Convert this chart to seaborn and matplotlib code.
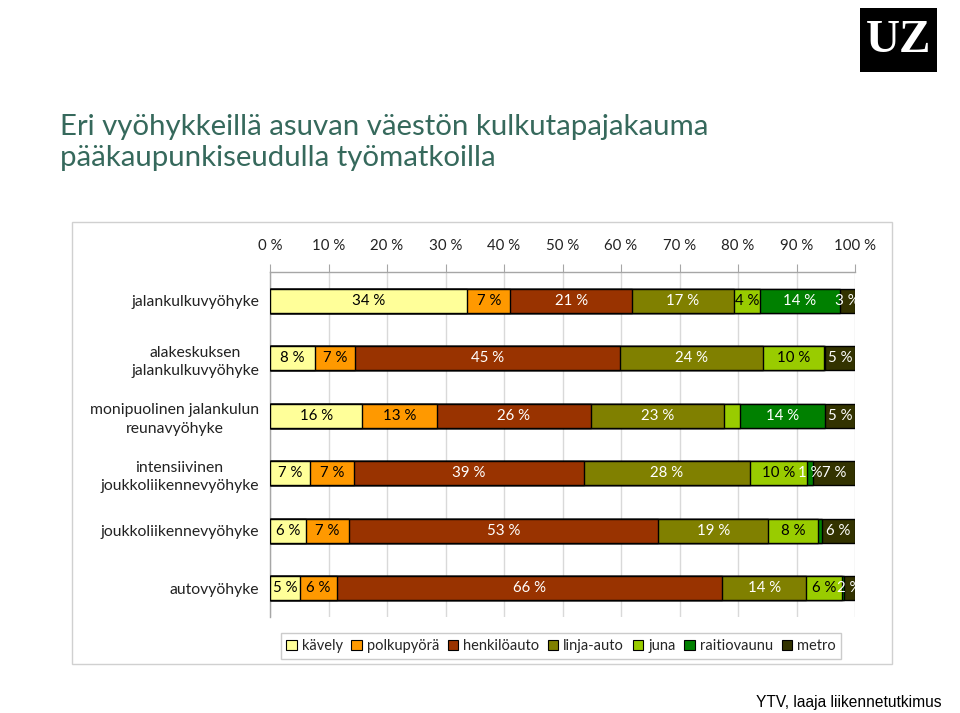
import numpy as np
import matplotlib
matplotlib.use("Agg")
import matplotlib.pyplot as plt
import seaborn as sns
from matplotlib.patches import Rectangle, Patch

# ── Data (share of trips, %) ────────────────────────────────────────────────
zones = [
    "jalankulkuvyöhyke",
    "alakeskuksen\njalankulkuvyöhyke",
    "monipuolinen jalankulun\nreunavyöhyke",
    "intensiivinen\njoukkoliikennevyöhyke",
    "joukkoliikennevyöhyke",
    "autovyöhyke",
]
modes = ["kävely", "polkupyörä", "henkilöauto", "linja-auto", "juna",
         "raitiovaunu", "metro"]

kavely      = [33.7, 7.7, 15.8, 6.9, 6.1, 5.2]
polkupyora  = [7.4, 6.8, 12.8, 7.4, 7.4, 6.2]
henkiloauto = [20.8, 45.4, 26.2, 39.4, 52.8, 65.9]
linja_auto  = [17.4, 24.4, 22.8, 28.3, 18.9, 14.4]
juna        = [4.4, 10.4, 2.8, 9.8, 8.4, 6.1]
raitiovaunu = [13.7, 0.2, 14.4, 1.1, 0.7, 0.3]
metro       = [2.6, 5.1, 5.2, 7.1, 5.7, 1.9]

# segments whose label is not shown in the original
unlabeled = [(2, "juna")]

colors = ["#FFFF99", "#FF9900", "#993300", "#808000", "#99CC00",
          "#008000", "#333300"]
label_colors = ["black", "black", "white", "white", "black", "white", "white"]

series = [kavely, polkupyora, henkiloauto, linja_auto, juna, raitiovaunu, metro]
values = np.array(series)            # shape (modes, zones)
cum = np.cumsum(values, axis=0)

# ── Figure ──────────────────────────────────────────────────────────────────
sns.set_style("white")
plt.rcParams["font.family"] = ["Lato", "DejaVu Sans"]

fig = plt.figure(figsize=(9.6, 7.13), dpi=100)
W, H = 960, 713
ax = fig.add_axes([270 / W, 1 - 617 / H, 585 / W, 345 / H])

# stacked bars: draw cumulative totals from the last series back to the first
for i in range(len(modes) - 1, -1, -1):
    sns.barplot(x=cum[i], y=zones, orient="h", color=colors[i],
                saturation=1, width=0.42, edgecolor="black", linewidth=1,
                ax=ax, zorder=3)

# value labels
for i, m in enumerate(modes):
    for j in range(len(zones)):
        v = values[i, j]
        if v < 1 or (j, m) in unlabeled:
            continue
        mid = cum[i, j] - v / 2
        ax.text(mid, j, f"{v:.0f} %", ha="center", va="center",
                fontsize=10.8, color=label_colors[i], zorder=5)

ax.set_xlim(0, 100)
ax.set_ylim(len(zones) - 0.5, -0.5)
ax.set_xlabel("")
ax.set_ylabel("")

ax.xaxis.tick_top()
ax.set_xticks(np.arange(0, 101, 10))
ax.set_xticklabels([f"{t} %" for t in range(0, 101, 10)], fontsize=10.8,
                   color="#222222")
ax.tick_params(axis="x", direction="out", length=6, color="#a6a6a6", pad=8)
ax.grid(axis="x", color="#d9d9d9", linewidth=1, zorder=0)
ax.set_axisbelow(True)

ax.set_yticks(range(len(zones)))
ax.set_yticklabels(zones, fontsize=11.3, color="#222222",
                   multialignment="center", linespacing=1.4)
ax.tick_params(axis="y", length=0, pad=8)
ax.set_yticks(np.arange(0.5, len(zones) - 0.5, 1), minor=True)
ax.tick_params(axis="y", which="minor", length=5, color="#a6a6a6",
               direction="out")

for side in ["right", "bottom"]:
    ax.spines[side].set_visible(False)
for side in ["top", "left"]:
    ax.spines[side].set_color("#a6a6a6")
    ax.spines[side].set_linewidth(1)

# legend
handles = [Patch(facecolor=c, edgecolor="black", linewidth=0.8) for c in colors]
fig.legend(handles, modes, loc="center", ncol=7,
           bbox_to_anchor=(561 / W, 1 - 646 / H), fontsize=10.5,
           frameon=True, fancybox=False, edgecolor="#bfbfbf",
           handlelength=0.7, handleheight=0.7, handletextpad=0.35,
           columnspacing=0.6, borderpad=0.4)

# chart frame
fig.patches.append(Rectangle((72 / W, 1 - 664 / H), 820 / W, 442 / H,
                             transform=fig.transFigure, fill=False,
                             edgecolor="#d0d0d0", linewidth=1))

# title
fig.text(60 / W, 1 - 114 / H,
         "Eri vyöhykkeillä asuvan väestön kulkutapajakauma\n"
         "pääkaupunkiseudulla työmatkoilla",
         ha="left", va="top", fontsize=21.2, color="#36695C",
         linespacing=1.25)

# logo
fig.patches.append(Rectangle((860 / W, 1 - 72 / H), 77 / W, 64 / H,
                             transform=fig.transFigure, facecolor="black",
                             edgecolor="none"))
fig.text(898.5 / W, 1 - 41 / H, "UZ", ha="center", va="center",
         fontsize=34, color="white", fontweight="bold",
         family="Liberation Serif")

# source
fig.text(942 / W, 1 - 703 / H, "YTV, laaja liikennetutkimus", ha="right",
         va="center", fontsize=11.2, color="black", family="Liberation Sans")

fig.savefig("out.png", dpi=100)
